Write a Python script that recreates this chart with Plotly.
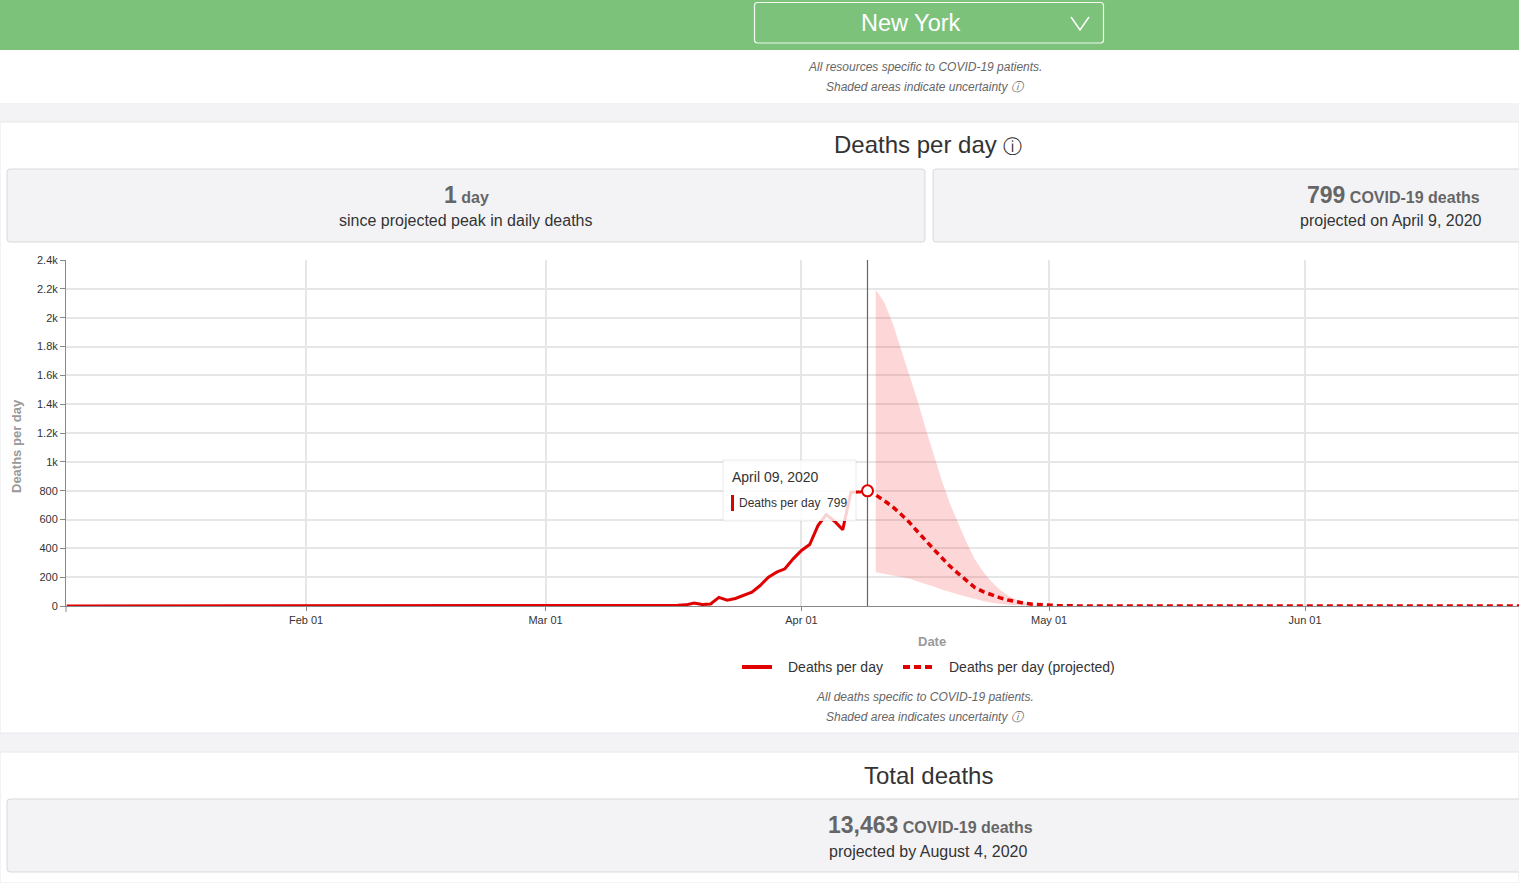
import plotly.graph_objects as go

W, H = 1519, 883


def px(x):
    return x / W


def py(y):
    return 1 - y / H


# ---------------- data ----------------
observed_dates = ["2020-01-03", "2020-03-10", "2020-03-11", "2020-03-12", "2020-03-13", "2020-03-14",
                  "2020-03-15", "2020-03-16", "2020-03-17", "2020-03-18", "2020-03-19", "2020-03-20",
                  "2020-03-21", "2020-03-22", "2020-03-23", "2020-03-24", "2020-03-25", "2020-03-26",
                  "2020-03-27", "2020-03-28", "2020-03-29", "2020-03-30", "2020-03-31", "2020-04-01",
                  "2020-04-02", "2020-04-03", "2020-04-04", "2020-04-05", "2020-04-06", "2020-04-07",
                  "2020-04-08", "2020-04-09"]
observed_deaths = [0, 0, 0, 0, 1, 2,
                   3, 2, 5, 8, 20, 10,
                   14, 60, 40, 52, 73, 96,
                   142, 200, 235, 258, 327, 385,
                   426, 558, 634, 588, 530, 789,
                   790, 799]

projected_dates = ["2020-04-09", "2020-04-10", "2020-04-11", "2020-04-12", "2020-04-13", "2020-04-14",
                   "2020-04-15", "2020-04-16", "2020-04-17", "2020-04-18", "2020-04-19", "2020-04-20",
                   "2020-04-21", "2020-04-22", "2020-04-23", "2020-04-24", "2020-04-25", "2020-04-26",
                   "2020-04-27", "2020-04-28", "2020-04-29", "2020-04-30", "2020-05-01", "2020-05-02",
                   "2020-05-03", "2020-05-04", "2020-05-05", "2020-08-04"]
projected_deaths = [799, 770, 732, 690, 640, 585,
                    520, 455, 395, 335, 275, 225,
                    180, 128, 100, 78, 58, 42,
                    28, 19, 12, 8, 5, 3,
                    2, 1, 0, 0]

band_dates = ["2020-04-10", "2020-04-11", "2020-04-12", "2020-04-13", "2020-04-14", "2020-04-15",
              "2020-04-16", "2020-04-17", "2020-04-18", "2020-04-19", "2020-04-20", "2020-04-21",
              "2020-04-22", "2020-04-23", "2020-04-24", "2020-04-25", "2020-04-26", "2020-04-27",
              "2020-04-28", "2020-04-29", "2020-04-30", "2020-05-01", "2020-05-02", "2020-08-04"]
band_upper = [2193, 2110, 1970, 1795, 1620, 1435,
              1240, 1050, 870, 709, 570, 440,
              325, 240, 170, 115, 72, 45,
              24, 11, 5, 2, 0, 0]
band_lower = [234, 222, 210, 200, 190, 172,
              155, 135, 115, 96, 80, 64,
              47, 34, 22, 14, 9, 5,
              3, 1, 0, 0, 0, 0]

y_tick_values = [0, 200, 400, 600, 800, 1000, 1200, 1400, 1600, 1800, 2000, 2200, 2400]
y_tick_labels = ["0", "200", "400", "600", "800", "1k", "1.2k", "1.4k", "1.6k", "1.8k", "2k", "2.2k", "2.4k"]
x_tick_values = ["2020-02-01", "2020-03-01", "2020-04-01", "2020-05-01", "2020-06-01"]
x_tick_labels = ["Feb 01", "Mar 01", "Apr 01", "May 01", "Jun 01"]

peak_date = projected_dates[0]
peak_value = projected_deaths[0]

FONT = "Arial, 'Liberation Sans', sans-serif"
RED = "#e00000"
BAND = "rgba(245,40,40,0.19)"

fig = go.Figure()

# uncertainty band
fig.add_trace(go.Scatter(x=band_dates, y=band_lower, mode="lines", line=dict(width=0, color=BAND),
                         showlegend=False, hoverinfo="skip"))
fig.add_trace(go.Scatter(x=band_dates, y=band_upper, mode="lines", line=dict(width=0, color=BAND),
                         fill="tonexty", fillcolor=BAND, showlegend=False, hoverinfo="skip"))

# observed
fig.add_trace(go.Scatter(x=observed_dates, y=observed_deaths, mode="lines",
                         line=dict(color=RED, width=3), name="Deaths per day", showlegend=False))
# projected
fig.add_trace(go.Scatter(x=projected_dates, y=projected_deaths, mode="lines",
                         line=dict(color=RED, width=3.5, dash="6px,4px"),
                         name="Deaths per day (projected)", showlegend=False))
# hover point
fig.add_trace(go.Scatter(x=[peak_date], y=[peak_value], mode="markers",
                         marker=dict(size=11, color="white", line=dict(color=RED, width=2)),
                         showlegend=False, hoverinfo="skip"))

shapes = []
# page sections
shapes.append(dict(type="rect", xref="paper", yref="paper", x0=0, x1=1, y0=py(50), y1=py(0),
                   fillcolor="#7cc27a", line=dict(width=0), layer="below"))
shapes.append(dict(type="rect", xref="paper", yref="paper", x0=0, x1=1, y0=py(103), y1=py(50),
                   fillcolor="white", line=dict(width=0), layer="below"))
shapes.append(dict(type="rect", xref="paper", yref="paper", x0=0, x1=1, y0=py(733), y1=py(122),
                   fillcolor="white", line=dict(color="#e8e8ec", width=1), layer="below"))
shapes.append(dict(type="rect", xref="paper", yref="paper", x0=0, x1=1, y0=py(883), y1=py(752),
                   fillcolor="white", line=dict(color="#e8e8ec", width=1), layer="below"))


def rounded(x0, y0, x1, y1, r):
    X = px
    Y = py
    return (f"M {X(x0 + r)} {Y(y0)} L {X(x1 - r)} {Y(y0)} Q {X(x1)} {Y(y0)} {X(x1)} {Y(y0 + r)} "
            f"L {X(x1)} {Y(y1 - r)} Q {X(x1)} {Y(y1)} {X(x1 - r)} {Y(y1)} "
            f"L {X(x0 + r)} {Y(y1)} Q {X(x0)} {Y(y1)} {X(x0)} {Y(y1 - r)} "
            f"L {X(x0)} {Y(y0 + r)} Q {X(x0)} {Y(y0)} {X(x0 + r)} {Y(y0)} Z")


# dropdown
shapes.append(dict(type="path", xref="paper", yref="paper", path=rounded(754.5, 2.5, 1103.5, 43, 3),
                   fillcolor="rgba(0,0,0,0)", line=dict(color="rgba(255,255,255,0.9)", width=1.2),
                   layer="below"))
shapes.append(dict(type="path", xref="paper", yref="paper",
                   path=f"M {px(1071)} {py(17)} L {px(1080)} {py(30)} L {px(1089)} {py(17)}",
                   line=dict(color="white", width=1.5), layer="below"))
# info boxes
for x0, x1, y0, y1 in [(7, 925, 169, 242), (933, 1530, 169, 242), (7, 1530, 799, 872)]:
    shapes.append(dict(type="path", xref="paper", yref="paper", path=rounded(x0, y0, x1, y1, 3),
                       fillcolor="#f3f3f6", line=dict(color="#d9d9dc", width=1), layer="below"))
# small tick below origin
shapes.append(dict(type="line", xref="paper", yref="paper", x0=px(66), x1=px(66), y0=py(612), y1=py(606),
                   line=dict(color="#888", width=1)))
# vertical line at peak
shapes.append(dict(type="line", xref="x", yref="y", x0=peak_date, x1=peak_date, y0=0, y1=2400,
                   line=dict(color="#666", width=1.2), layer="between"))
# tooltip box
shapes.append(dict(type="rect", xref="paper", yref="paper", x0=px(723), x1=px(856), y0=py(521), y1=py(460),
                   fillcolor="rgba(255,255,255,0.82)", line=dict(color="rgba(0,0,0,0.08)", width=1),
                   layer="above"))
shapes.append(dict(type="line", xref="paper", yref="paper", x0=px(732.5), x1=px(732.5), y0=py(511), y1=py(495),
                   line=dict(color=RED, width=3), layer="above"))
# legend marks
shapes.append(dict(type="line", xref="paper", yref="paper", x0=px(742), x1=px(772), y0=py(667), y1=py(667),
                   line=dict(color=RED, width=4)))
shapes.append(dict(type="line", xref="paper", yref="paper", x0=px(903), x1=px(933), y0=py(667), y1=py(667),
                   line=dict(color=RED, width=4, dash="7px,4px")))

ann = []


def text(x, y, s, size=12, color="#333", anchor="center", angle=0):
    ann.append(dict(x=px(x), y=py(y), xref="paper", yref="paper", text=s, showarrow=False,
                    xanchor=anchor, yanchor="middle", textangle=angle,
                    font=dict(family=FONT, size=size, color=color)))


text(911, 23, "New York", 23.5, "white")
text(925, 67, "<i>All resources specific to COVID-19 patients.</i>", 12, "#666")
text(925, 87, "<i>Shaded areas indicate uncertainty ⓘ</i>", 12, "#666")
text(928, 145, "Deaths per day <span style='font-size:19px'>ⓘ</span>", 24, "#333")
text(466, 195, "<b><span style='font-size:23px'>1</span> day</b>", 16, "#666")
text(466, 221, "since projected peak in daily deaths", 16, "#333")
text(1393, 195, f"<b><span style='font-size:23px'>{peak_value}</span> COVID-19 deaths</b>", 16, "#666")
text(1391, 221, "projected on April 9, 2020", 16, "#333")
text(16, 446, "<b>Deaths per day</b>", 13, "#999", angle=-90)
text(932, 641, "<b>Date</b>", 13, "#999")
text(786, 667, "Deaths per day", 14, "#333", anchor="left")
text(947, 667, "Deaths per day (projected)", 14, "#333", anchor="left")
text(925, 697, "<i>All deaths specific to COVID-19 patients.</i>", 12, "#666")
text(925, 717, "<i>Shaded area indicates uncertainty ⓘ</i>", 12, "#666")
text(928, 775, "Total deaths", 24, "#333")
text(930, 825, "<b><span style='font-size:23px'>13,463</span> COVID-19 deaths</b>", 16, "#666")
text(928, 851, "projected by August 4, 2020", 16, "#333")
# tooltip text
text(730, 477, "April 09, 2020", 14, "#333", anchor="left")
text(737, 503, f"Deaths per day  {peak_value}", 12, "#333", anchor="left")

fig.update_layout(
    width=W, height=H,
    margin=dict(l=0, r=0, t=0, b=0),
    paper_bgcolor="#f3f3f6",
    plot_bgcolor="rgba(0,0,0,0)",
    font=dict(family=FONT, color="#333"),
    showlegend=False,
    shapes=shapes,
    annotations=ann,
    xaxis=dict(domain=[px(66), 1], range=["2020-01-02 22:00", "2020-06-26 22:00"], type="date",
               tickvals=x_tick_values, ticktext=x_tick_labels, ticks="outside", ticklen=4,
               tickcolor="#888", showline=True, linecolor="#888", linewidth=1,
               showgrid=True, gridcolor="#e6e6e6", gridwidth=1.5, zeroline=False,
               tickfont=dict(size=11, color="#333"), automargin=False, fixedrange=True),
    yaxis=dict(domain=[py(606), py(260)], range=[0, 2400],
               tickvals=y_tick_values, ticktext=y_tick_labels, ticks="outside", ticklen=5,
               tickcolor="#888", showline=True, linecolor="#888", linewidth=1,
               showgrid=True, gridcolor="#e6e6e6", gridwidth=1.5, zeroline=False,
               tickfont=dict(size=11, color="#333"), automargin=False, fixedrange=True),
)

fig.write_html("out.html", config={"displayModeBar": False},
               post_script="document.body.style.margin='0';document.body.style.overflow='hidden';")
